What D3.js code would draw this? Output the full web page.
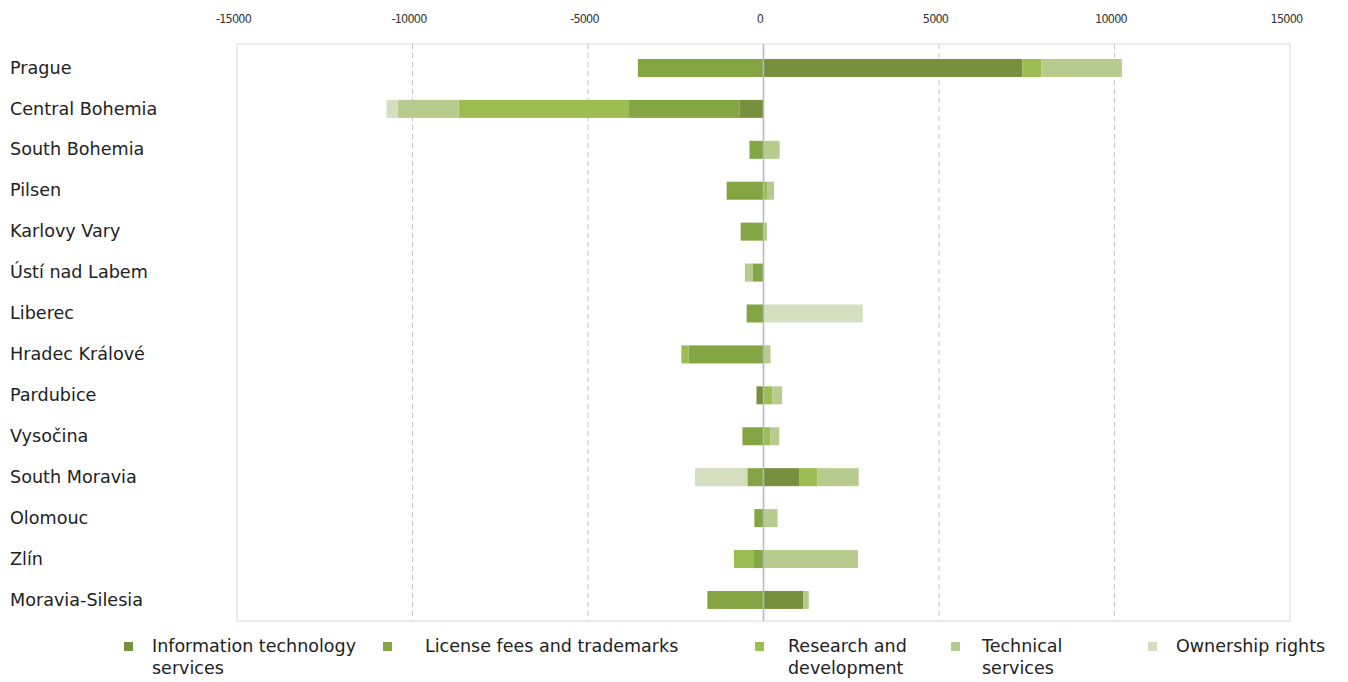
<!DOCTYPE html>
<html>
<head>
<meta charset="utf-8">
<script src="https://cdn.jsdelivr.net/npm/d3@7"></script>
<style>
  html, body { margin: 0; padding: 0; background: #fff; }
  svg { display: block; }
</style>
</head>
<body>
<svg id="chart" width="1348" height="682"></svg>
<script>
const regions = ["Prague","Central Bohemia","South Bohemia","Pilsen","Karlovy Vary","Ústí nad Labem","Liberec","Hradec Králové","Pardubice","Vysočina","South Moravia","Olomouc","Zlín","Moravia-Silesia"];
const seriesNames = ["Information technology services","License fees and trademarks","Research and development","Technical services","Ownership rights"];
const itServices   = [7370, -690,    0,    0,    0,  -30,    0,     0, -200,    0, 1030,    0,    0, 1140];
const licenseFees  = [-3580, -3140, -400, -1050, -650, -270, -480, -2140,  0, -600, -460, -260, -270, -1600];
const researchDev  = [540, -4860,    0,  100,    0,    0,    0, -200,  250,  200,  510,    0, -570,    0];
const technical    = [2300, -1740,  460,  200,  100, -230,    0,  200,  280,  250, 1170,  400, 2690,  150];
const ownership    = [0,   -310,    0,    0,    0,    0, 2830,    0,    0,    0, -1490,   0,    0,    0];
const xTicks = [-15000,-10000,-5000,0,5000,10000,15000];
const colors = ["#76903e","#84a543","#9bbd52","#b6cb8d","#d4dec1"];

const seriesValues = [itServices, licenseFees, researchDev, technical, ownership];

(function () {
const svg = d3.select("#chart");
const pLeft = 237, pRight = 1290, pTop = 44, pBottom = 621;

const x = d3.scaleLinear().domain([-15000, 15000]).range([pLeft, pRight]);
const y = d3.scaleBand().domain(regions).range([47.5, 620.4]).paddingInner(0.56).paddingOuter(0.28);

// plot frame
svg.append("rect").attr("x", pLeft).attr("y", pTop).attr("width", pRight - pLeft).attr("height", pBottom - pTop)
  .attr("fill", "none").attr("stroke", "#d9d9d9").attr("stroke-width", 1);

// gridlines
xTicks.filter(t => t !== 0 && Math.abs(t) !== 15000).forEach(t => {
  svg.append("line").attr("x1", x(t)).attr("x2", x(t)).attr("y1", pTop).attr("y2", pBottom)
    .attr("stroke", "#c4c4c4").attr("stroke-dasharray", "5,4").attr("stroke-width", 1);
});

// top axis labels
const xAxis = d3.axisTop(x).tickValues(xTicks).tickSize(0).tickPadding(0).tickFormat(d => String(d));
const gx = svg.append("g").attr("transform", "translate(-4,19)").call(xAxis);
gx.select(".domain").remove();
gx.selectAll("text").attr("font-family", "'DejaVu Sans Condensed', 'DejaVu Sans', sans-serif")
  .attr("font-size", 12.5).attr("fill", "#333").attr("dy", "0.35em").attr("letter-spacing", "-0.8px");

// stacked bars
const stacks = regions.map(() => ({pos: 0, neg: 0}));
seriesValues.forEach((vals, si) => {
  const g = svg.append("g");
  vals.forEach((v, ri) => {
    if (!v) return;
    let x0, x1;
    if (v > 0) { x0 = stacks[ri].pos; x1 = x0 + v; stacks[ri].pos = x1; }
    else { x0 = stacks[ri].neg; x1 = x0 + v; stacks[ri].neg = x1; }
    g.append("rect")
      .attr("x", x(Math.min(x0, x1)))
      .attr("width", Math.abs(x(x1) - x(x0)))
      .attr("y", y(regions[ri]))
      .attr("height", y.bandwidth())
      .attr("fill", colors[si]);
  });
});

// zero line
svg.append("line").attr("x1", x(0)).attr("x2", x(0)).attr("y1", pTop).attr("y2", pBottom)
  .attr("stroke", "#b4b6c4").attr("stroke-width", 1.5);

// category labels
const yAxis = d3.axisLeft(y).tickSize(0);
const gy = svg.append("g").attr("transform", "translate(10,0)").call(yAxis);
gy.select(".domain").remove();
gy.selectAll("text").attr("text-anchor", "start").attr("x", 0)
  .attr("font-family", "'DejaVu Sans', Verdana, sans-serif").attr("font-size", 17.6).attr("fill", "#222");

// legend
const legendItems = [
  {lines: ["Information technology", "services"], mx: 124, tx: 152},
  {lines: ["License fees and trademarks"], mx: 383, tx: 425},
  {lines: ["Research and", "development"], mx: 755, tx: 788},
  {lines: ["Technical", "services"], mx: 951, tx: 982},
  {lines: ["Ownership rights"], mx: 1148, tx: 1176}
];
legendItems.forEach((it, i) => {
  svg.append("rect").attr("x", it.mx).attr("y", 642).attr("width", 9).attr("height", 9).attr("fill", colors[i]);
  const t = svg.append("text").attr("x", it.tx).attr("y", 652)
    .attr("font-family", "'DejaVu Sans', Verdana, sans-serif").attr("font-size", 17.5).attr("fill", "#222");
  it.lines.forEach((l, j) => {
    t.append("tspan").attr("x", it.tx).attr("dy", j === 0 ? 0 : 22).text(l);
  });
});
})();
</script>
</body>
</html>
